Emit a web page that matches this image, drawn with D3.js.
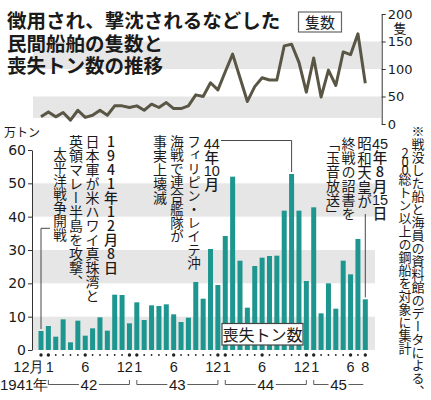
<!DOCTYPE html>
<html>
<head>
<meta charset="utf-8">
<script src="https://cdn.jsdelivr.net/npm/d3@7"></script>
<style>
  body { margin: 0; background: #fff; }
  svg { display: block; }
  text { font-family: "Noto Sans CJK JP", sans-serif; fill: #1a1a1a; }
  .num { font-family: "Liberation Sans", sans-serif; }
  .axisnum { font-family: "DejaVu Sans", sans-serif; }
</style>
</head>
<body>
<svg id="chart"></svg>
<script>
// 1941年12月 .. 1945年8月 (45 months)
const ships = [13, 22, 13, 21, 7, 25, 12, 16, 25, 16, 33, 33, 30,
               33, 25, 36, 30, 39, 28, 28, 33, 53, 50, 75, 62,
               95, 127, 84, 41, 68, 84, 80, 80, 142, 145, 112, 58,
               120, 49, 98, 70, 131, 126, 164, 74];
const tonnage = [5.7, 7.2, 4.0, 9.2, 2.3, 8.8, 4.3, 6.5, 9.8, 5.8, 16.6, 16.5, 8.0,
                 14.3, 9.0, 13.4, 13.2, 13.7, 10.7, 8.4, 9.7, 20.4, 15.4, 30.3, 19.5,
                 34.2, 52.0, 26.8, 12.7, 25.2, 27.7, 28.2, 28.3, 41.8, 52.8, 41.8, 20.7,
                 42.8, 11.0, 20.0, 12.4, 26.8, 22.7, 33.3, 15.2];
const tickMonths = [0, 1, 6, 12, 13, 18, 24, 25, 30, 36, 37, 42, 44];
const tickLabels = ['12月', '1', '6', '12', '1', '6', '12', '1', '6', '12', '1', '6', '8'];
const yearLabels = ['42', '43', '44', '45'];
const yearStart = [1, 13, 25, 37];
const yearEnd = [12, 24, 36, 44];
const tonTicks = [0, 10, 20, 30, 40, 50, 60];
const shipTicks = [0, 50, 100, 150, 200];
const tonBands = [[0, 10], [20, 30], [40, 50]];
const shipBands = [[11, 50], [100, 150]];
const titleLines = ['徴用され、撃沈されるなどした', '民間船舶の隻数と', '喪失トン数の推移'];

const W = 431, H = 400;
const svg = d3.select('#chart').attr('width', W).attr('height', H);

const x = d3.scalePoint().domain(d3.range(ships.length)).range([41, 365.3]);
const yBar = d3.scaleLinear().domain([0, 60]).range([350, 150]);
const yLine = d3.scaleLinear().domain([0, 200]).range([124, 14]);

// gray bands
svg.append('g').selectAll('rect').data(shipBands).join('rect')
    .attr('x', 33).attr('width', 348)
    .attr('y', d => yLine(d[1])).attr('height', d => yLine(d[0]) - yLine(d[1]))
    .attr('fill', '#e6e6e6');
svg.append('g').selectAll('rect').data(tonBands).join('rect')
    .attr('x', 33).attr('width', 342)
    .attr('y', d => yBar(d[1])).attr('height', d => yBar(d[0]) - yBar(d[1]))
    .attr('fill', '#e6e6e6');

// title, one text block
svg.append('text')
    .attr('font-size', 19.5).attr('font-weight', 700)
    .selectAll('tspan').data(titleLines).join('tspan')
    .attr('x', 7).attr('y', (d, i) => 28 + i * 22.5)
    .text(d => d);

// ship count line
svg.append('path')
    .datum(ships)
    .attr('fill', 'none')
    .attr('stroke', '#5a5645')
    .attr('stroke-width', 3)
    .attr('stroke-linejoin', 'round')
    .attr('d', d3.line().x((d, i) => x(i)).y(d => yLine(d)));

// right axis (ships)
const rAxis = svg.append('g')
    .attr('transform', 'translate(381.7,0)')
    .call(d3.axisRight(yLine).tickValues(shipTicks).tickSize(4).tickSizeOuter(0).tickPadding(2));
rAxis.selectAll('path, line').attr('stroke', '#333').attr('stroke-width', 1);
rAxis.selectAll('text').attr('class', 'axisnum').attr('font-size', 13).attr('fill', '#1a1a1a');
svg.append('text').attr('x', 400).attr('y', 32.5).attr('text-anchor', 'middle')
    .attr('font-size', 13).text('隻');

// legend box: 隻数
svg.append('rect').attr('x', 298.5).attr('y', 12).attr('width', 43).attr('height', 20)
    .attr('fill', '#fff').attr('stroke', '#666').attr('stroke-width', 1.2);
svg.append('text').attr('x', 320).attr('y', 28).attr('text-anchor', 'middle')
    .attr('font-size', 15).text('隻数');

// tonnage bars
svg.append('g').selectAll('rect').data(tonnage).join('rect')
    .attr('x', (d, i) => x(i) - 2.5)
    .attr('width', 5)
    .attr('y', d => yBar(d))
    .attr('height', d => yBar(0) - yBar(d))
    .attr('fill', '#1d968f');

// left axis (tonnage)
const lAxis = svg.append('g')
    .attr('transform', 'translate(32,0)')
    .call(d3.axisLeft(yBar).tickValues(tonTicks).tickSize(4).tickSizeOuter(0).tickPadding(2));
lAxis.selectAll('path, line').attr('stroke', '#333').attr('stroke-width', 1);
lAxis.selectAll('text').attr('class', 'axisnum').attr('font-size', 14).attr('fill', '#1a1a1a');
svg.append('text').attr('x', 4).attr('y', 137).attr('font-size', 12).text('万トン');

// legend box: 喪失トン数
svg.append('rect').attr('x', 222).attr('y', 323.5).attr('width', 81).attr('height', 21.5)
    .attr('fill', '#fff').attr('stroke', '#444').attr('stroke-width', 1.2);
svg.append('text').attr('x', 262.5).attr('y', 340.5).attr('text-anchor', 'middle')
    .attr('font-size', 16).text('喪失トン数');

// month dots
svg.append('g').selectAll('circle').data(d3.range(ships.length)).join('circle')
    .attr('cx', i => x(i)).attr('cy', 355)
    .attr('r', i => tickMonths.includes(i) ? 1.7 : 0.9)
    .attr('fill', '#222');

// month labels: a December label and the following January sit side by side
svg.append('g').selectAll('text').data(tickMonths).join('text')
    .attr('class', 'num')
    .attr('x', (m, i) => {
      const lab = tickLabels[i];
      if (lab.startsWith('12')) return x(m) + 3.5;
      if (lab === '1') return x(m) - 2.5;
      return x(m);
    })
    .attr('y', 372)
    .attr('text-anchor', (m, i) => {
      const lab = tickLabels[i];
      if (lab.startsWith('12')) return 'end';
      if (lab === '1') return 'start';
      return 'middle';
    })
    .attr('font-size', 14.5)
    .text((m, i) => tickLabels[i]);

// year row
svg.append('text').attr('class', 'num').attr('x', 0).attr('y', 390)
    .attr('font-size', 15).text('1941年');
const yr = svg.append('g');
yearLabels.forEach((lab, k) => {
  const a = x(yearStart[k]);
  const b = k === 3 ? x(yearEnd[k]) - 2 : x(yearEnd[k]);
  const c = (a + b) / 2;
  const endTick = k === 3 ? '' : 'V380';
  yr.append('path')
      .attr('d', `M${a},380V384.5H${c - 10}M${c + 10},384.5H${b}${endTick}`)
      .attr('fill', 'none').attr('stroke', '#333').attr('stroke-width', 0.8);
  yr.append('text').attr('class', 'num').attr('x', c).attr('y', 390).attr('text-anchor', 'middle')
      .attr('font-size', 15).text(lab);
});

// vertical text columns
function column(g, cx, top, parts, size, weight) {
  let cy = top;
  parts.forEach(p => {
    const t = typeof p === 'string' ? p : p.t;
    const ls = typeof p === 'string' ? 0 : p.ls;
    if (/^\d\d$/.test(t)) {
      g.append('text').attr('x', cx).attr('y', cy + size * 0.82)
          .attr('text-anchor', 'middle').attr('font-size', size).attr('font-weight', weight)
          .style('font-family', '"Liberation Sans", sans-serif')
          .text(t);
      cy += size * 0.9;
    } else {
      g.append('text').attr('x', cx).attr('y', cy)
          .attr('font-size', size).attr('font-weight', weight)
          .style('writing-mode', 'vertical-rl')
          .style('text-orientation', 'upright')
          .style('letter-spacing', ls + 'px')
          .text(t);
      cy += t.length * (size + ls);
    }
  });
}

const notes = svg.append('g');
// Pearl Harbor
column(notes, 111, 135, ['1941年12月8日'], 14, 500);
column(notes, 92.5, 135, ['日本軍が米ハワイ真珠湾と'], 14, 400);
column(notes, 76, 135, ['英領マレー半島を攻撃、'], 14, 400);
column(notes, 60, 147, ['太平洋戦争開戦'], 13.5, 400);
// Leyte
column(notes, 211.7, 136.7, ['44', '年', '10', '月'], 14.5, 500);
column(notes, 194, 135, ['フィリピン・レイテ沖'], 13.5, 400);
column(notes, 177, 135, ['海戦で連合艦隊が'], 13.5, 400);
column(notes, 160, 135, ['事実上壊滅'], 14, 400);
// surrender
column(notes, 380, 136.7, ['45', '年8月', '15', '日'], 14.5, 500);
column(notes, 364.5, 136.7, ['昭和天皇が'], 14.5, 400);
column(notes, 348.5, 136.7, ['終戦の詔書を'], 14, 400);
column(notes, 333, 136.7, ['「玉音放送」'], 14, 400);
// footnote
column(notes, 418, 125, ['※戦没した船と海員の資料館のデータによる、'], 13, 400);
column(notes, 405, 146.7, [{t: '200', ls: -4.5}, '総トン以上の鋼船を対象に集計'], 13, 400);

// leader lines
const lead = svg.append('g').attr('fill', 'none').attr('stroke', '#333').attr('stroke-width', 0.9);
lead.append('path').attr('d', `M50,228.3H${x(0)}V${yBar(tonnage[0]) - 2}`);
lead.append('path').attr('d', `M221,140.5H${x(34)}V${yBar(tonnage[34]) - 2}`);
lead.append('path').attr('d', `M${x(44)},214V${yBar(tonnage[44]) - 2}`);
</script>
</body>
</html>
